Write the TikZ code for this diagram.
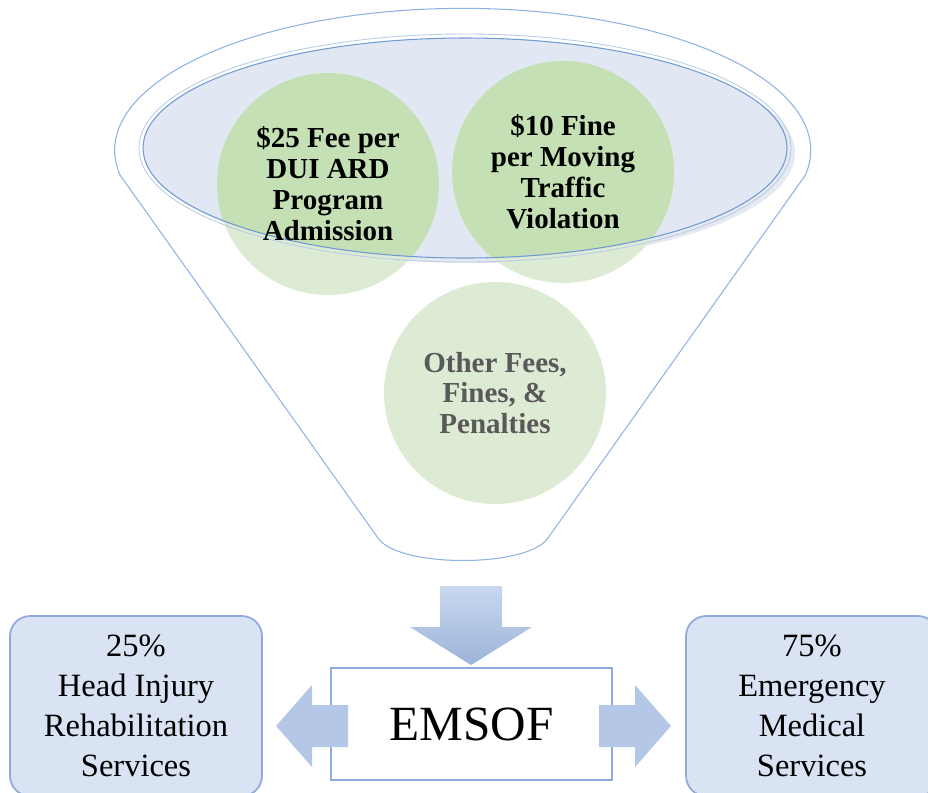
\documentclass[tikz,border=0pt]{standalone}
\usepackage{fontspec}
\setmainfont{Liberation Serif}
\definecolor{funnelblue}{HTML}{8DB3E2}
\definecolor{rimblue}{HTML}{6F9AD3}
\definecolor{rimglow}{HTML}{B7CDEA}
\definecolor{rimfill}{HTML}{E2E8F3}
\definecolor{rimshadow}{HTML}{E6E9EE}
\definecolor{coingreen}{HTML}{C5E0B4}
\definecolor{coinpale}{HTML}{DDEBD4}
\definecolor{othergray}{HTML}{595959}
\definecolor{sharefill}{HTML}{DAE3F3}
\definecolor{shareline}{HTML}{8FAADC}
\definecolor{arrowblue}{HTML}{B4C7E7}
\definecolor{downtop}{HTML}{C8D8EF}
\definecolor{downbottom}{HTML}{9BB4D8}

\begin{document}
\begin{tikzpicture}[x=0.02cm, y=-0.02cm,
  every node/.style = {align=center, inner sep=0pt}]
    \tikzstyle{coin text}=[font=\bfseries\fontsize{16.5}{17.6}\selectfont]
    \tikzstyle{share}=[shape=rectangle, rounded corners=0.4cm,
      draw=shareline, line width=1pt, fill=sharefill,
      minimum width=5.04cm, minimum height=3.6cm,
      font=\fontsize{18.5}{22.7}\selectfont]
    \tikzstyle{blockarrow}=[fill=arrowblue]
  \useasboundingbox (0,0) rectangle (928,792);
  % rim of the funnel
  \fill[rimshadow] (473,153) ellipse [x radius=322, y radius=110];
  \fill[rimfill] (465,148) ellipse [x radius=322, y radius=110];
  % the sources
  \fill[coinpale] (328,184) circle [radius=111]
    (563,172) circle [radius=111] (495,393) circle [radius=111];
  \begin{scope}
    \clip (465,148) ellipse [x radius=322, y radius=110];
    \fill[coingreen] (328,184) circle [radius=111]
      (563,172) circle [radius=111];
  \end{scope}
  \draw[rimglow, line width=0.5pt] (465,148) ellipse [x radius=326, y radius=114];
  \draw[rimblue, line width=0.6pt] (465,148) ellipse [x radius=322, y radius=110];
  % funnel
  \draw[funnelblue, line width=0.6pt] (120,175)
    arc [start angle=170, end angle=370, x radius=348, y radius=142]
    -- (548,538) .. controls (528,568) and (398,568) .. (378,538) -- cycle;
  \node[coin text] (fee) at (328,184) {\$25 Fee per\\DUI ARD\\Program\\Admission};
  \node[coin text] (fine) at (563,172) {\$10 Fine\\per Moving\\Traffic\\Violation};
  \node[coin text, text=othergray] (other) at (495,393) {Other Fees,\\Fines, \&\\Penalties};
  % into the fund
  \shade[top color=downtop, bottom color=downbottom] (440,586) -- (502,586)
    -- (502,627) -- (532,627) -- (471,665) -- (410,627) -- (440,627) -- cycle;
  \node[draw=shareline, line width=1.5pt, fill=white,
    minimum width=5.62cm, minimum height=2.24cm,
    font=\fontsize{28}{30}\selectfont] (emsof) at (471.5,724) {EMSOF};
  \node[share] (head) at (136,706) {25\%\\Head Injury\\Rehabilitation\\Services};
  \node[share] (ems) at (812,706) {75\%\\Emergency\\Medical\\Services};
  % split
  \fill[blockarrow] (348,705) -- (312,705) -- (312,685) -- (276,726)
    -- (312,767) -- (312,747) -- (348,747) -- cycle;
  \fill[blockarrow] (599,705) -- (635,705) -- (635,685) -- (671,726)
    -- (635,767) -- (635,747) -- (599,747) -- cycle;
\end{tikzpicture}
\end{document}
